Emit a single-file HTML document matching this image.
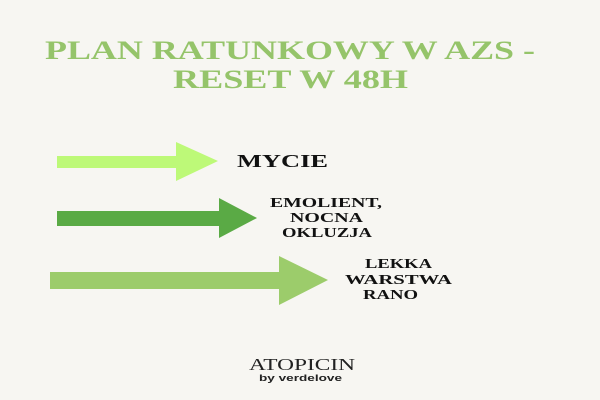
<!DOCTYPE html>
<html><head><meta charset="utf-8"><style>
html,body{margin:0;padding:0;background:#f7f6f2;}
svg{display:block}
</style></head><body>
<svg width="600" height="400" viewBox="0 0 600 400" xmlns="http://www.w3.org/2000/svg">
<rect width="600" height="400" fill="#f7f6f2"/>
<g font-family="Liberation Serif, serif" font-weight="bold" fill="#95c46a">
<text x="45" y="59" font-size="26" textLength="490" lengthAdjust="spacingAndGlyphs">PLAN RATUNKOWY W AZS -</text>
<text x="173" y="88" font-size="26" textLength="235" lengthAdjust="spacingAndGlyphs">RESET W 48H</text>
</g>
<polygon points="57,156 176,156 176,142 218,161 176,181 176,168 57,168" fill="#bdf978"/>
<polygon points="57,211 219,211 219,198 257,218 219,238 219,226 57,226" fill="#5aaa45"/>
<polygon points="50,272 279,272 279,256 328,280 279,305 279,289 50,289" fill="#9ccc6b"/>
<g font-family="Liberation Serif, serif" font-weight="bold" fill="#111">
<text x="237" y="167" font-size="18" textLength="91" lengthAdjust="spacingAndGlyphs">MYCIE</text>
<text x="270" y="207" font-size="14" textLength="112" lengthAdjust="spacingAndGlyphs">EMOLIENT,</text>
<text x="290" y="222" font-size="14" textLength="73" lengthAdjust="spacingAndGlyphs">NOCNA</text>
<text x="282" y="237" font-size="14" textLength="90" lengthAdjust="spacingAndGlyphs">OKLUZJA</text>
<text x="365" y="268" font-size="14" textLength="67" lengthAdjust="spacingAndGlyphs">LEKKA</text>
<text x="345" y="284" font-size="14" textLength="107" lengthAdjust="spacingAndGlyphs">WARSTWA</text>
<text x="363" y="299" font-size="14" textLength="55" lengthAdjust="spacingAndGlyphs">RANO</text>
<text x="249" y="370" font-size="17" font-weight="normal" fill="#222" textLength="106" lengthAdjust="spacingAndGlyphs">ATOPICIN</text>
</g>
<text x="259" y="381" font-family="Liberation Sans, sans-serif" font-weight="bold" font-size="9" fill="#222" textLength="83" lengthAdjust="spacingAndGlyphs">by verdelove</text>
</svg>
</body></html>
